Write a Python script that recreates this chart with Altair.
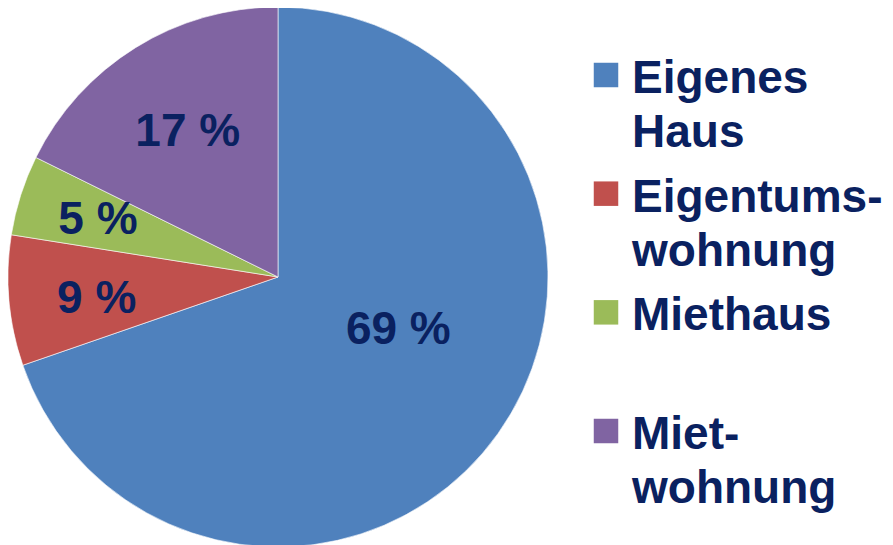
import altair as alt
import pandas as pd

# Data
categories = ["Eigenes Haus", "Eigentumswohnung", "Miethaus", "Mietwohnung"]
legend_labels = ["Eigenes\nHaus", "Eigentums-\nwohnung", "Miethaus", "Miet-\nwohnung"]
shares = [69.7, 7.8, 4.8, 17.7]
pct_labels = ["69 %", "9 %", "5 %", "17 %"]
colors = ["#4F81BD", "#C0504D", "#9BBB59", "#8064A2"]
order = [0, 1, 2, 3]

TEXT_COLOR = "#0A2160"
FONT = "Liberation Sans"

df = pd.DataFrame({
    "category": categories,
    "legend": legend_labels,
    "share": shares,
    "label": pct_labels,
    "order": order,
})

color_scale = alt.Scale(domain=categories, range=colors)

base = alt.Chart(df).encode(
    theta=alt.Theta("share:Q", stack=True),
    order=alt.Order("order:Q", sort="ascending"),
    x=alt.value(270),
    y=alt.value(269),
)

arcs = base.mark_arc(outerRadius=270, stroke="#ffffff", strokeWidth=0.6,
                     clip=True).encode(
    color=alt.Color("category:N", scale=color_scale, legend=None),
)

text_style = dict(font=FONT, fontSize=46, fontWeight="bold", color=TEXT_COLOR,
                  align="center", baseline="middle")

# label placement style per slice (distance from centre and small nudge)
label_styles = [
    ("Eigenes Haus", dict(radius=133, dx=12, dy=-24)),
    ("Eigentumswohnung", dict(radius=182, dy=6)),
    ("Miethaus", dict(radius=189)),
    ("Mietwohnung", dict(radius=171)),
]

label_layers = []
for cat, style in label_styles:
    test = f"datum.category == '{cat}'"
    label_layers.append(
        base.mark_text(**style, **text_style).encode(
            text=alt.condition(test, alt.Text("label:N"), alt.value("")),
        )
    )

pie = alt.layer(arcs, *label_layers).properties(width=540, height=537)

leg_base = alt.Chart(df).encode(
    y=alt.Y("category:N", sort=categories, axis=None,
            scale=alt.Scale(type="point", range=[67, 423], padding=0)),
)

squares = leg_base.mark_square(size=600, filled=True, opacity=1).encode(
    x=alt.value(58),
    color=alt.Color("category:N", scale=color_scale, legend=None),
)

leg_text = leg_base.mark_text(
    align="left", baseline="alphabetic", dy=18, font=FONT, fontSize=46,
    fontWeight="bold", lineHeight=54, color=TEXT_COLOR, lineBreak="\n",
).encode(
    x=alt.value(84),
    text="legend:N",
)

legend = alt.layer(squares, leg_text).properties(width=337, height=537)

chart = alt.hconcat(pie, legend, spacing=0).properties(
    padding=0, background="#ffffff",
).configure_view(stroke=None)

chart.save("out.html", embed_options={"renderer": "svg", "actions": False})
